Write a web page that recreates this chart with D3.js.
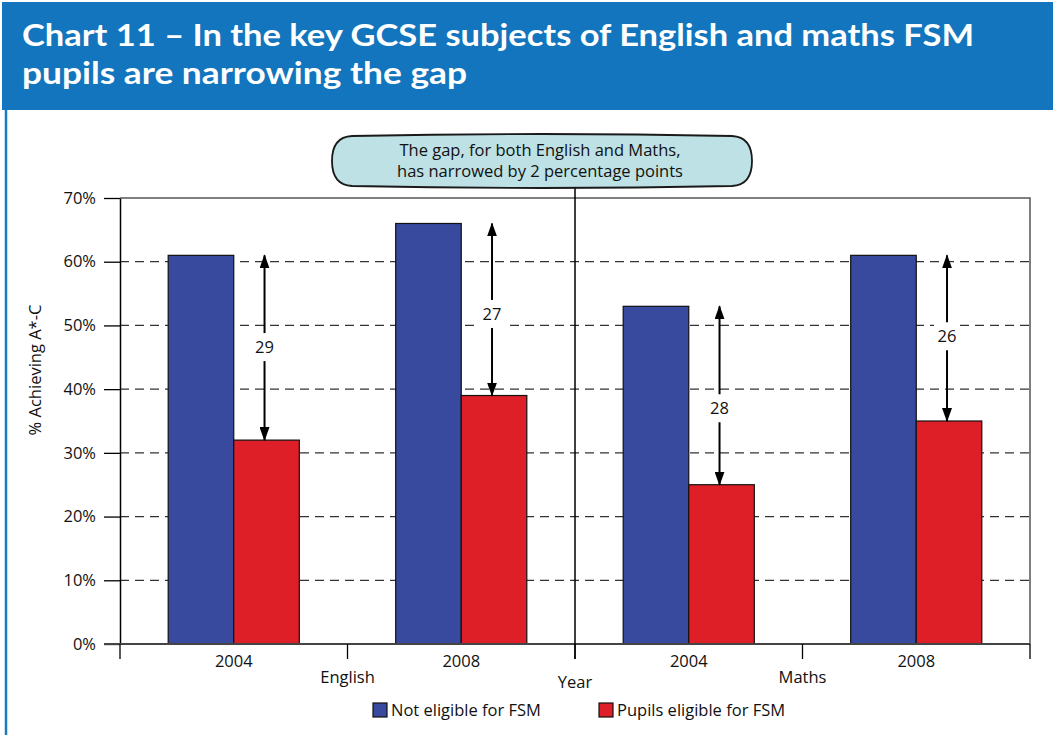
<!DOCTYPE html>
<html>
<head>
<meta charset="utf-8">
<script src="https://cdn.jsdelivr.net/npm/d3@7"></script>
<style>
  body { margin: 0; background: #fff; }
  svg { display: block; }
  text { font-family: "Open Sans", "Noto Sans", sans-serif; fill: #111; }
  .title { font-family: Lato, "DejaVu Sans", sans-serif; font-weight: bold; fill: #fff; }
</style>
</head>
<body>
<svg id="chart" width="1053" height="735"></svg>
<script>
// chart values
var subjects = ["English", "Maths"];
var years = ["2004", "2008"];
var seriesNames = ["Not eligible for FSM", "Pupils eligible for FSM"];
var notEligible = [61, 66, 53, 61];
var eligible = [32, 39, 25, 35];
var gapValues = [29, 27, 28, 26];
var gapLabelAt = [46.6, 51.8, 37, 48.3];   // where the number sits on each arrow (% units)
var yTicks = [0, 10, 20, 30, 40, 50, 60, 70];

var colors = ["#374a9e", "#df1f27"];
var fs = '16.5px';

d3.select(window).on('load', init);

function init() {
    var svg = d3.select('#chart');

    draw_header(svg);
    draw_plot(svg);
}

function draw_header(svg) {
    svg.append('rect')
        .attr('x', 2).attr('y', 2)
        .attr('width', 1051).attr('height', 108)
        .attr('fill', '#1275bd');

    svg.append('line')
        .attr('x1', 6).attr('x2', 6)
        .attr('y1', 110).attr('y2', 735)
        .attr('stroke', '#1a7bc3')
        .attr('stroke-width', 2.5);

    var lines = [
        ["Chart 11 \u2013 In the key GCSE subjects of English and maths FSM", 46, 952],
        ["pupils are narrowing the gap", 84, 445]
    ];
    svg.selectAll('text.title')
        .data(lines)
        .enter()
        .append('text')
        .attr('class', 'title')
        .attr('x', 22)
        .attr('y', function(d){ return d[1]; })
        .attr('textLength', function(d){ return d[2]; })
        .attr('lengthAdjust', 'spacingAndGlyphs')
        .style('font-size', '31px')
        .text(function(d){ return d[0]; });
}

function draw_plot(svg) {
    var left = 120, right = 1030, top = 198, bottom = 644;

    var cats = [];
    subjects.forEach(function(s){
        years.forEach(function(y){ cats.push(s + ' ' + y); });
    });

    var rows = cats.map(function(c, i){
        return { cat: c, year: c.split(' ')[1], vals: [notEligible[i], eligible[i]],
                 gap: gapValues[i], labelAt: gapLabelAt[i] };
    });

    var x0 = d3.scaleBand()
        .domain(cats)
        .range([left, right])
        .padding(0);

    var x1 = d3.scaleBand()
        .domain(seriesNames)
        .range([0, x0.bandwidth()])
        .paddingInner(0)
        .paddingOuter(0.735);

    var yScale = d3.scaleLinear()
        .domain([0, 70])
        .range([bottom, top]);

    // dashed gridlines
    svg.append('g')
        .selectAll('line')
        .data(yTicks.filter(function(d){ return d > 0 && d < 70; }))
        .enter()
        .append('line')
        .attr('x1', left).attr('x2', right)
        .attr('y1', function(d){ return yScale(d); })
        .attr('y2', function(d){ return yScale(d); })
        .attr('stroke', '#333')
        .attr('stroke-width', 1.2)
        .attr('stroke-dasharray', '9,6');

    // frame top + right
    svg.append('path')
        .attr('d', 'M' + left + ',' + top + 'H' + right + 'V' + bottom)
        .attr('fill', 'none')
        .attr('stroke', '#555')
        .attr('stroke-width', 1.5);

    // bars
    var groups = svg.append('g')
        .selectAll('g')
        .data(rows)
        .enter()
        .append('g')
        .attr('transform', function(d){ return 'translate(' + x0(d.cat) + ',0)'; });

    groups.selectAll('rect')
        .data(function(d){ return d.vals.map(function(v, i){ return { key: seriesNames[i], v: v, i: i }; }); })
        .enter()
        .append('rect')
        .attr('x', function(d){ return x1(d.key); })
        .attr('width', x1.bandwidth())
        .attr('y', function(d){ return yScale(d.v); })
        .attr('height', function(d){ return bottom - yScale(d.v); })
        .attr('fill', function(d){ return colors[d.i]; })
        .attr('stroke', '#111')
        .attr('stroke-width', 1.2);

    // gap arrows
    var defs = svg.append('defs');
    defs.append('marker')
        .attr('id', 'head')
        .attr('viewBox', '0 0 14 10')
        .attr('refX', 13).attr('refY', 5)
        .attr('markerWidth', 14).attr('markerHeight', 10)
        .attr('markerUnits', 'userSpaceOnUse')
        .attr('orient', 'auto-start-reverse')
        .append('path')
        .attr('d', 'M0,0 L14,5 L0,10 Z')
        .attr('fill', '#000');

    var arrows = svg.append('g')
        .selectAll('g')
        .data(rows)
        .enter()
        .append('g')
        .attr('transform', function(d){
            return 'translate(' + (x0(d.cat) + x1(seriesNames[1]) + x1.bandwidth() / 2 - 2) + ',0)';
        });

    arrows.append('line')
        .attr('y1', function(d){ return yScale(d.vals[0]); })
        .attr('y2', function(d){ return yScale(d.vals[1]); })
        .attr('stroke', '#000')
        .attr('stroke-width', 2)
        .attr('marker-start', 'url(#head)')
        .attr('marker-end', 'url(#head)');

    arrows.append('rect')
        .attr('x', -13).attr('width', 26)
        .attr('y', function(d){ return yScale(d.labelAt) - 14; })
        .attr('height', 28)
        .attr('fill', '#fff');

    arrows.append('text')
        .attr('y', function(d){ return yScale(d.labelAt) + 6; })
        .attr('text-anchor', 'middle')
        .style('font-size', fs)
        .text(function(d){ return d.gap; });

    // y axis
    var yAxis = d3.axisLeft(yScale)
        .tickValues(yTicks)
        .tickFormat(function(d){ return d + '%'; })
        .tickSize(16)
        .tickSizeOuter(0)
        .tickPadding(8);

    var gy = svg.append('g')
        .attr('transform', 'translate(' + left + ',0)')
        .call(yAxis);
    gy.select('.domain').attr('stroke', '#000').attr('stroke-width', 1.5);
    gy.selectAll('.tick line').attr('stroke', '#000').attr('stroke-width', 1.3);
    gy.selectAll('.tick text').style('font-size', fs).attr('font-family', null).attr('fill', '#111');

    svg.append('text')
        .attr('transform', 'translate(41,370) rotate(-90)')
        .attr('text-anchor', 'middle')
        .style('font-size', fs)
        .text('% Achieving A*-C');

    // x axis: baseline, year labels, boundary ticks
    svg.append('line')
        .attr('x1', 104).attr('x2', right)
        .attr('y1', bottom).attr('y2', bottom)
        .attr('stroke', '#444')
        .attr('stroke-width', 1.8);

    var xAxis = d3.axisBottom(x0)
        .tickSize(0)
        .tickPadding(0)
        .tickFormat(function(d){ return d.split(' ')[1]; });

    var gx = svg.append('g')
        .attr('transform', 'translate(0,' + bottom + ')')
        .call(xAxis);
    gx.select('.domain').remove();
    gx.selectAll('.tick text')
        .attr('y', 23).attr('dy', null)
        .attr('font-family', null).attr('fill', '#111')
        .style('font-size', fs);

    var bounds = cats.map(function(c){ return x0(c); }).concat([right]);
    svg.append('g')
        .selectAll('line')
        .data(bounds)
        .enter()
        .append('line')
        .attr('x1', function(d){ return d; }).attr('x2', function(d){ return d; })
        .attr('y1', bottom).attr('y2', bottom + 15)
        .attr('stroke', '#000')
        .attr('stroke-width', 1.3);

    // subject / year separator
    var mid = x0(cats[2]);
    svg.append('line')
        .attr('x1', mid).attr('x2', mid)
        .attr('y1', 188).attr('y2', bottom + 15)
        .attr('stroke', '#000')
        .attr('stroke-width', 1.5);

    svg.append('g')
        .selectAll('text')
        .data(subjects)
        .enter()
        .append('text')
        .attr('x', function(d, i){ return x0(cats[i * 2 + 1]); })
        .attr('y', 683)
        .attr('text-anchor', 'middle')
        .style('font-size', fs)
        .text(function(d){ return d; });

    svg.append('text')
        .attr('x', mid).attr('y', 688)
        .attr('text-anchor', 'middle')
        .style('font-size', fs)
        .text('Year');

    // callout
    var note = svg.append('g');
    note.append('path')
        .attr('d', 'M352,136 Q542,132 732,136 Q752,137 752,161 Q752,185 732,186 Q542,190 352,186 Q332,185 332,161 Q332,137 352,136 Z')
        .attr('fill', '#bde1e4')
        .attr('stroke', '#1a1a1a')
        .attr('stroke-width', 1.8);
    note.selectAll('text')
        .data(["The gap, for both English and Maths,", "has narrowed by 2 percentage points"])
        .enter()
        .append('text')
        .attr('x', 540)
        .attr('y', function(d, i){ return 156 + i * 21; })
        .attr('text-anchor', 'middle')
        .style('font-size', fs)
        .text(function(d){ return d; });

    // legend
    var legendX = [373, 599];
    var legend = svg.append('g')
        .selectAll('g')
        .data(seriesNames)
        .enter()
        .append('g')
        .attr('transform', function(d, i){ return 'translate(' + legendX[i] + ',703)'; });
    legend.append('rect')
        .attr('width', 14).attr('height', 14)
        .attr('fill', function(d, i){ return colors[i]; })
        .attr('stroke', '#111')
        .attr('stroke-width', 1.2);
    legend.append('text')
        .attr('x', 18).attr('y', 13)
        .style('font-size', fs)
        .text(function(d){ return d; });
}
</script>
</body>
</html>
